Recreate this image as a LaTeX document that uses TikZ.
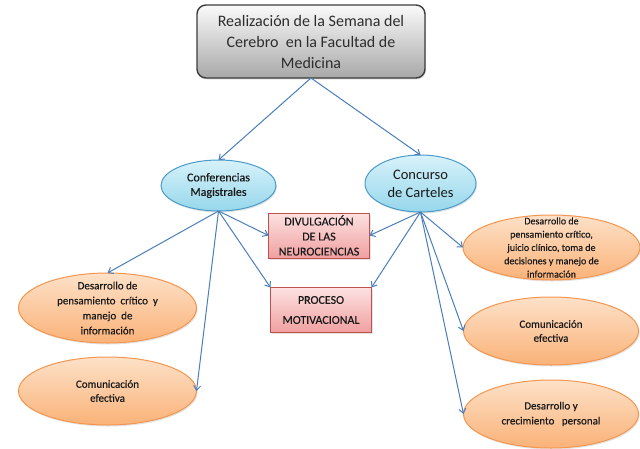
\documentclass[tikz,border=0pt]{standalone}
\usepackage{fontspec}
\setmainfont{Carlito}
\newfontfamily\heavy[FakeBold=0.35]{Carlito}
\usetikzlibrary{shapes.geometric,arrows.meta,shadows}
\definecolor{titletop}{RGB}{250,250,250}
\definecolor{titlebot}{RGB}{168,168,168}
\definecolor{titledraw}{RGB}{60,60,60}
\definecolor{titletext}{RGB}{45,45,45}
\definecolor{bluetop}{RGB}{215,242,250}
\definecolor{bluebot}{RGB}{150,215,235}
\definecolor{bluedraw}{RGB}{75,155,200}
\definecolor{orangetop}{RGB}{253,225,200}
\definecolor{orangebot}{RGB}{250,178,120}
\definecolor{orangedraw}{RGB}{243,150,80}
\definecolor{pinktop}{RGB}{253,225,225}
\definecolor{pinkbot}{RGB}{240,160,160}
\definecolor{pinkdraw}{RGB}{192,80,77}
\definecolor{arrowblue}{RGB}{74,126,187}
\definecolor{inktext}{RGB}{25,25,25}
\begin{document}
\begin{tikzpicture}[x=1pt,y=-1pt,
  shad/.style={drop shadow={opacity=0.22,shadow xshift=1pt,shadow yshift=-1.5pt}},
  titlebox/.style={draw=titledraw,line width=1.4pt,rounded corners=9pt,
    top color=titletop,bottom color=titlebot,shad,
    minimum width=228pt,minimum height=73pt,inner sep=0pt,outer sep=0pt,
    align=center,text=titletext,font=\fontsize{16}{21}\selectfont},
  blueoval/.style={ellipse,draw=bluedraw,line width=1pt,
    top color=bluetop,bottom color=bluebot,shad,inner sep=0pt,outer sep=0pt},
  orangeoval/.style={ellipse,draw=orangedraw,line width=1pt,
    top color=orangetop,bottom color=orangebot,shad,inner sep=0pt,outer sep=0pt,
    minimum width=178pt},
  pinkbox/.style={draw=pinkdraw,line width=1pt,top color=pinktop,bottom color=pinkbot,
    shad,minimum width=101pt,minimum height=45pt,inner sep=0pt,outer sep=0pt,
    align=center,text=inktext,font=\heavy\fontsize{12}{15}\selectfont},
  ovaltext/.style={align=center,inner sep=0pt,text=inktext},
  arr/.style={draw=arrowblue,line width=1pt,-{Straight Barb[length=4.5pt,width=7pt]}}
]
\useasboundingbox (0,0) rectangle (640,448);

\node[titlebox] (tit) at (311,41.5) {Realización de la Semana del\\Cerebro\ \ en la Facultad de\\Medicina};

\node[blueoval,minimum width=115pt,minimum height=51pt,
  label={[ovaltext,font=\heavy\fontsize{12}{14.5}\selectfont]center:Conferencias\\Magistrales}] (conf) at (218.5,185.5) {};
\node[blueoval,minimum width=111pt,minimum height=57pt,
  label={[ovaltext,font=\fontsize{14.5}{18}\selectfont]center:Concurso\\de Carteles}] (conc) at (420.5,183.5) {};

\node[pinkbox] (div) at (319,235.5) {DIVULGACIÓN\\DE LAS\\NEUROCIENCIAS};
\node[pinkbox,font=\heavy\fontsize{12}{20}\selectfont] (proc) at (321,310) {PROCESO\\MOTIVACIONAL};

\node[orangeoval,minimum height=70pt,
  label={[ovaltext,font=\heavy\fontsize{11}{15}\selectfont]center:Desarrollo de\\pensamiento\ \ crítico\ \ y\\manejo\ \ de\\información}] (izq1) at (107.5,308) {};
\node[orangeoval,minimum height=68pt,
  label={[ovaltext,font=\heavy\fontsize{11}{14}\selectfont]center:Comunicación\\efectiva}] (izq2) at (107.5,391) {};

\node[orangeoval,minimum width=177pt,minimum height=65pt,
  label={[ovaltext,font=\heavy\fontsize{10}{13.3}\selectfont]center:Desarrollo de\\pensamiento crítico,\\juicio clínico, toma de\\decisiones y manejo de\\información}] (der1) at (551.5,247.5) {};
\node[orangeoval,minimum width=175pt,minimum height=68pt,
  label={[ovaltext,font=\heavy\fontsize{11}{14}\selectfont]center:Comunicación\\efectiva}] (der2) at (551,331) {};
\node[orangeoval,minimum width=175pt,minimum height=68pt,
  label={[ovaltext,font=\heavy\fontsize{11}{15}\selectfont]center:Desarrollo y\\crecimiento\ \ \ personal}] (der3) at (551,414) {};

\draw[arr] (tit.south) -- (conf.north);
\draw[arr] (tit.south) -- (conc.north);
\draw[arr] (conf.south) -- (izq1.north);
\draw[arr] (conf.south) -- (izq2.east);
\draw[arr] (conf.south) -- (div.west);
\draw[arr] (conf.south) -- (proc.north west);
\draw[arr] (conc.south) -- (div.east);
\draw[arr] (conc.south) -- (proc.north east);
\draw[arr] (conc.south) -- (der1.west);
\draw[arr] (conc.south) -- (der2.west);
\draw[arr] (conc.south) -- (der3.west);
\end{tikzpicture}
\end{document}
